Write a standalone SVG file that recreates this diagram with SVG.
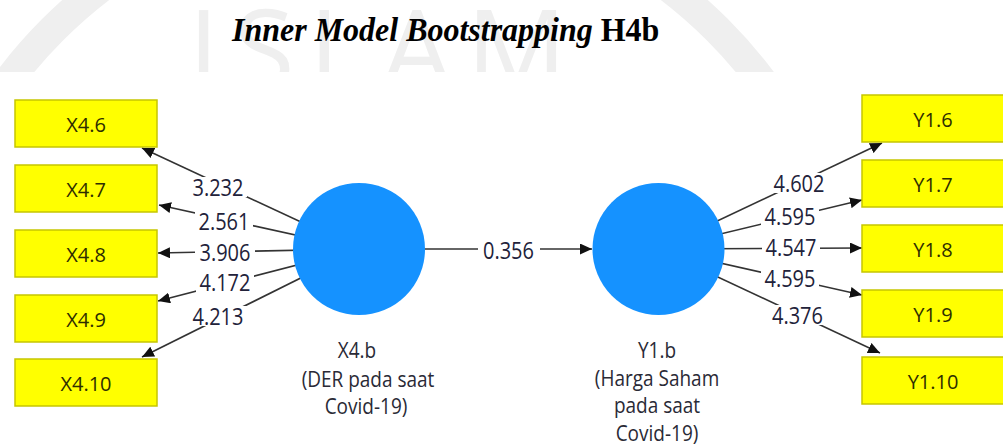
<svg xmlns="http://www.w3.org/2000/svg" width="1003" height="445" viewBox="0 0 1003 445">
  <defs>
    <style>
      .wm{fill:#efefef;font-family:"Open Sans","Noto Sans",sans-serif;font-size:112px}
      .wmring{fill:none;stroke:#efefef;stroke-width:30}
      .title{font-family:"Liberation Serif","Times New Roman",serif;font-size:32px;font-weight:bold;fill:#000}
      .box{fill:#ffff00;stroke:#c6c600;stroke-width:1.5}
      .btxt{font-family:"Open Sans","Noto Sans",sans-serif;font-size:20px;fill:#2e2e00;text-anchor:middle}
      .lv{fill:#1592ff}
      .edge{stroke:#333;stroke-width:1.6;fill:none}
      .lblbg{fill:#fff}
      .lbl{font-family:"Open Sans","Noto Sans",sans-serif;font-size:20px;fill:#22223a;text-anchor:middle}
      .cap{font-family:"Open Sans","Noto Sans",sans-serif;font-size:19px;fill:#2a2a36;text-anchor:middle}
    </style>
    <marker id="arrow" markerUnits="userSpaceOnUse" markerWidth="13" markerHeight="11" refX="12" refY="5.5" orient="auto">
      <path d="M0,0 L12,5.5 L0,11 z" fill="#111"/>
    </marker>
    <clipPath id="wmclip">
      <rect x="0" y="0" width="1003" height="72"/>
    </clipPath>
  </defs>

  <rect width="1003" height="445" fill="#fff"/>

  <!-- faint background watermark -->
  <g id="watermark" clip-path="url(#wmclip)">
    <circle class="wmring" cx="385" cy="362" r="470"/>
    <text class="wm" x="188" y="90" textLength="379" lengthAdjust="spacing">ISLAM</text>
  </g>

  <!-- heading -->
  <text class="title" transform="translate(232,41) scale(1,1.04)" x="0" y="0"><tspan font-style="italic">Inner Model Bootstrapping</tspan> H4b</text>

  <!-- connectors -->
  <g id="connectors">
    <line class="edge" x1="359" y1="249" x2="142" y2="148" marker-end="url(#arrow)"/>
    <line class="edge" x1="359" y1="249" x2="159" y2="205" marker-end="url(#arrow)"/>
    <line class="edge" x1="359" y1="249" x2="158" y2="253" marker-end="url(#arrow)"/>
    <line class="edge" x1="359" y1="249" x2="158" y2="301" marker-end="url(#arrow)"/>
    <line class="edge" x1="359" y1="249" x2="142" y2="357" marker-end="url(#arrow)"/>
    <line class="edge" x1="359" y1="249" x2="592" y2="249" marker-end="url(#arrow)"/>
    <line class="edge" x1="658" y1="249" x2="882" y2="143" marker-end="url(#arrow)"/>
    <line class="edge" x1="658" y1="249" x2="862" y2="200" marker-end="url(#arrow)"/>
    <line class="edge" x1="658" y1="249" x2="862" y2="248" marker-end="url(#arrow)"/>
    <line class="edge" x1="658" y1="249" x2="862" y2="295" marker-end="url(#arrow)"/>
    <line class="edge" x1="658" y1="249" x2="880" y2="353" marker-end="url(#arrow)"/>

    <!-- path coefficient labels -->
    <rect class="lblbg" x="189" y="177" width="58" height="20"/>
    <text class="lbl" transform="translate(218,195.5) scale(1,1.18)">3.232</text>
    <rect class="lblbg" x="195" y="211" width="58" height="20"/>
    <text class="lbl" transform="translate(224,229.5) scale(1,1.18)">2.561</text>
    <rect class="lblbg" x="195" y="243" width="60" height="20"/>
    <text class="lbl" transform="translate(225,261) scale(1,1.18)">3.906</text>
    <rect class="lblbg" x="196" y="272" width="58" height="20"/>
    <text class="lbl" transform="translate(225,291) scale(1,1.18)">4.172</text>
    <rect class="lblbg" x="189" y="306" width="58" height="20"/>
    <text class="lbl" transform="translate(218,324.5) scale(1,1.18)">4.213</text>

    <rect class="lblbg" x="478" y="240" width="62" height="20"/>
    <text class="lbl" transform="translate(508.5,259) scale(1,1.18)">0.356</text>

    <rect class="lblbg" x="770" y="173" width="58" height="20"/>
    <text class="lbl" transform="translate(799,191.5) scale(1,1.18)">4.602</text>
    <rect class="lblbg" x="761" y="207" width="58" height="20"/>
    <text class="lbl" transform="translate(790,225) scale(1,1.18)">4.595</text>
    <rect class="lblbg" x="762" y="237" width="58" height="20"/>
    <text class="lbl" transform="translate(791,255.5) scale(1,1.18)">4.547</text>
    <rect class="lblbg" x="761" y="269" width="58" height="20"/>
    <text class="lbl" transform="translate(790,287) scale(1,1.18)">4.595</text>
    <rect class="lblbg" x="768" y="305" width="58" height="20"/>
    <text class="lbl" transform="translate(797.5,323.5) scale(1,1.18)">4.376</text>
  </g>

  <!-- indicator X4.6 .. X4.10 -->
  <g id="X4.6"><rect class="box" x="15" y="100" width="142" height="47"/><text class="btxt" x="86" y="131.5">X4.6</text></g>
  <g id="X4.7"><rect class="box" x="15" y="165" width="142" height="47"/><text class="btxt" x="86" y="196.5">X4.7</text></g>
  <g id="X4.8"><rect class="box" x="15" y="230" width="142" height="47"/><text class="btxt" x="86" y="261.5">X4.8</text></g>
  <g id="X4.9"><rect class="box" x="15" y="295" width="142" height="47"/><text class="btxt" x="86" y="326.5">X4.9</text></g>
  <g id="X4.10"><rect class="box" x="15" y="359" width="142" height="47"/><text class="btxt" x="86" y="390.5">X4.10</text></g>

  <!-- indicator Y1.6 .. Y1.10 -->
  <g id="Y1.6"><rect class="box" x="862" y="95" width="142" height="47"/><text class="btxt" x="933" y="126.5">Y1.6</text></g>
  <g id="Y1.7"><rect class="box" x="862" y="160" width="142" height="47"/><text class="btxt" x="933" y="191.5">Y1.7</text></g>
  <g id="Y1.8"><rect class="box" x="862" y="225" width="142" height="47"/><text class="btxt" x="933" y="256.5">Y1.8</text></g>
  <g id="Y1.9"><rect class="box" x="862" y="290" width="142" height="47"/><text class="btxt" x="933" y="321.5">Y1.9</text></g>
  <g id="Y1.10"><rect class="box" x="862" y="357" width="142" height="47"/><text class="btxt" x="933" y="388.5">Y1.10</text></g>

  <!-- latent variable X4.b -->
  <g id="X4.b">
    <circle class="lv" cx="359" cy="249" r="66"/>
    <text class="cap" transform="translate(357,358) scale(1,1.18)">X4.b</text>
    <text class="cap" transform="translate(368,386.5) scale(1,1.18)">(DER pada saat</text>
    <text class="cap" transform="translate(366,414) scale(1,1.18)">Covid-19)</text>
  </g>

  <!-- latent variable Y1.b -->
  <g id="Y1.b">
    <circle class="lv" cx="658.5" cy="249" r="66"/>
    <text class="cap" transform="translate(657,358) scale(1,1.18)">Y1.b</text>
    <text class="cap" transform="translate(657,385.5) scale(1,1.18)">(Harga Saham</text>
    <text class="cap" transform="translate(657,413) scale(1,1.18)">pada saat</text>
    <text class="cap" transform="translate(657,440.5) scale(1,1.18)">Covid-19)</text>
  </g>
</svg>
